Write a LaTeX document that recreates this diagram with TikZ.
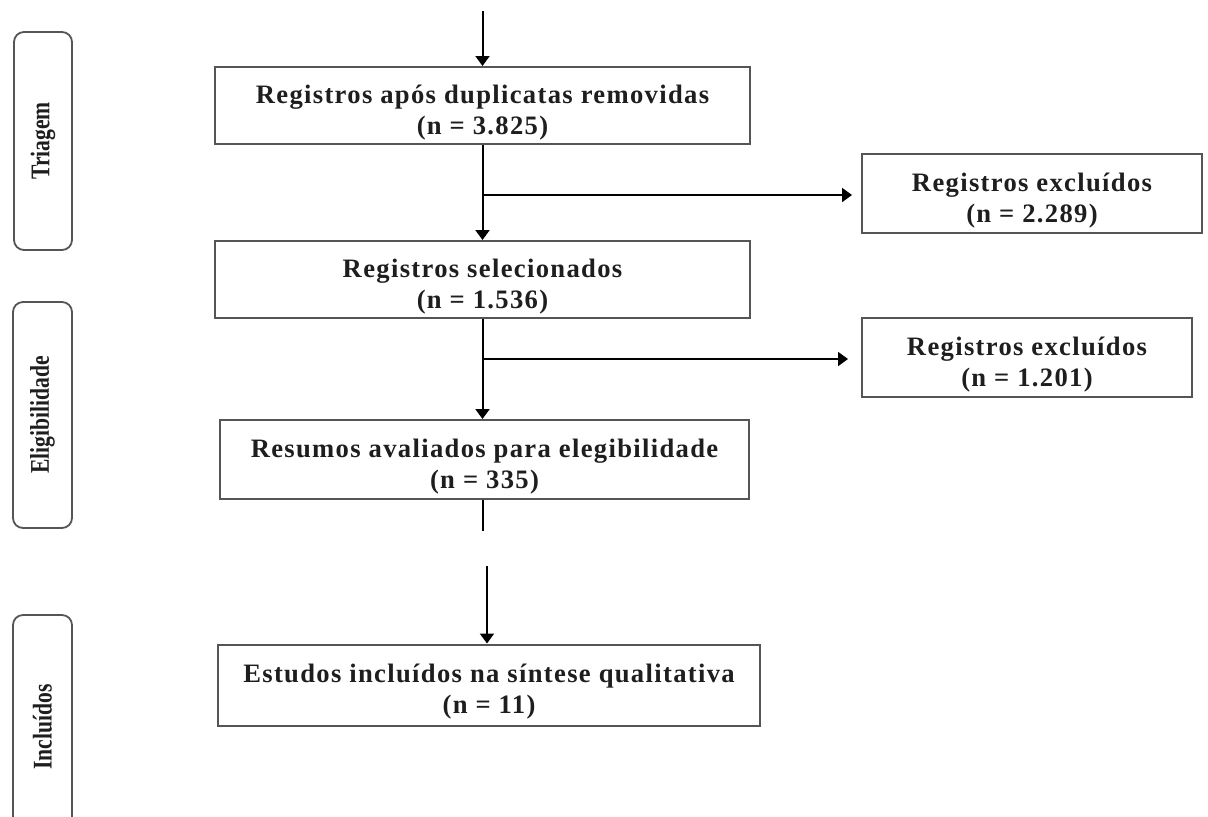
\documentclass[tikz,border=0pt]{standalone}
\usepackage{fontspec}
\setmainfont{Liberation Serif}
\newfontfamily\boxfont[LetterSpace=5]{Liberation Serif}
\usetikzlibrary{arrows.meta}
\definecolor{boxgray}{HTML}{555555}
\definecolor{txt}{HTML}{1E1E1E}
\newcommand{\twolines}[2]{\raisebox{-3.5pt}[\height][\depth]{\begin{tabular}{@{}c@{}}#1\\#2\end{tabular}}}
\tikzset{
  mainbox/.style={draw=boxgray, line width=1pt, inner sep=0pt, align=center, text=txt,
    font=\boxfont\bfseries\fontsize{13.3}{15.5}\selectfont},
  sidebox/.style={draw=boxgray, line width=0.9pt, rounded corners=5pt, inner sep=0pt,
    rotate=90, text=txt, font=\bfseries\fontsize{13.5}{15}\selectfont},
  flow/.style={draw=black, line width=1pt, -{Triangle[length=5pt,width=7pt]}},
  plain/.style={draw=black, line width=1pt}
}
\begin{document}
\begin{tikzpicture}[x=0.5pt, y=-0.5pt]
\clip (0,0) rectangle (1208,816);
\useasboundingbox (0,0) rectangle (1208,816);
\fill[white] (0,0) rectangle (1208,816);

% side labels
\node[sidebox, minimum width=109pt, minimum height=29pt] (tri) at (43,141) {\scalebox{0.8}[1]{Triagem}};
\node[sidebox, minimum width=113pt, minimum height=29.5pt] (ele) at (42.5,415) {\scalebox{0.8}[1]{Eligibilidade}};
\node[sidebox, minimum width=112pt, minimum height=29.5pt] (inc) at (42.5,727) {\scalebox{0.8}[1]{Incluídos}};

% main boxes
\node[mainbox, minimum width=267.5pt, minimum height=38.5pt] (b1) at (482.5,105.5)
  {\twolines{Registros após duplicatas removidas}{(n = 3.825)}};
\node[mainbox, minimum width=267.5pt, minimum height=38.5pt] (b2) at (482.5,279.5)
  {\twolines{Registros selecionados}{(n = 1.536)}};
\node[mainbox, minimum width=264.5pt, minimum height=39.5pt] (b3) at (484.5,459.5)
  {\twolines{Resumos avaliados para elegibilidade}{(n = 335)}};
\node[mainbox, minimum width=271pt, minimum height=40.5pt] (b4) at (489,685)
  {\twolines{Estudos incluídos na síntese qualitativa}{(n = 11)}};
\node[mainbox, minimum width=170pt, minimum height=39.5pt] (r1) at (1032,193.5)
  {\twolines{Registros excluídos}{(n = 2.289)}};
\node[mainbox, minimum width=165pt, minimum height=39.5pt] (r2) at (1027,357.5)
  {\twolines{Registros excluídos}{(n = 1.201)}};

% connectors
\coordinate (top) at (482.5,11);
\coordinate (j1) at (482.5,195);
\coordinate (j2) at (482.5,359);
\coordinate (e3) at (482.5,531);
\coordinate (s4) at (487,566);

\draw[flow] (top) -- (b1.north);
\draw[flow] (b1.south) -- (b2.north);
\draw[flow] (j1) -- ([xshift=-4.5pt]r1.west |- j1);
\draw[flow] (b2.south) -- (b2.south |- b3.north);
\draw[flow] (j2) -- ([xshift=-6.5pt]r2.west |- j2);
\draw[plain] (b2.south |- b3.south) -- (e3);
\draw[flow] (s4) -- (s4 |- b4.north);
\end{tikzpicture}
\end{document}
